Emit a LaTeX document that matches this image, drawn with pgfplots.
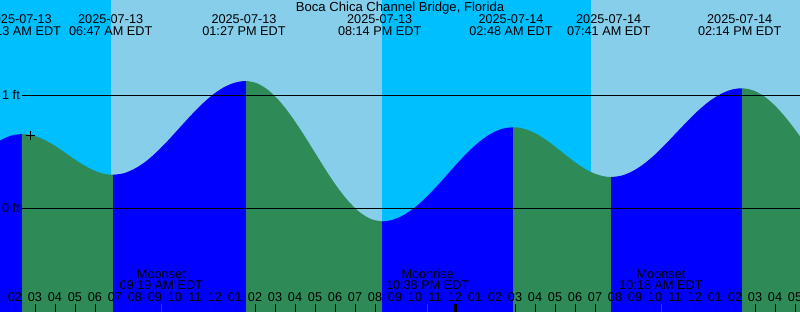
\documentclass[border=0pt]{standalone}
\usepackage{pgfplots}
\pgfplotsset{compat=1.18}
\usepgfplotslibrary{fillbetween}
\usepackage{fontspec}
\setmainfont{Liberation Sans}
\definecolor{deepsky}{RGB}{0,191,255}
\definecolor{skyb}{RGB}{135,206,235}
\definecolor{flood}{RGB}{0,0,255}
\definecolor{ebb}{RGB}{46,139,87}
\newcommand\lf{\fontsize{12.7bp}{14bp}\selectfont}
\newcommand\tf{\fontsize{13.1bp}{15bp}\selectfont}
\tikzset{fill between/on layer=main}
\begin{document}
\begin{tikzpicture}
\begin{axis}[name=ax,
  scale only axis, width=800bp, height=312bp,
  xmin=1.25, xmax=41.25, ymin=-0.9177, ymax=1.8434,
  axis line style={draw=none},
  axis on top,
  ytick=\empty,
  xtick={2,...,41},
  xticklabels={02,03,04,05,06,07,08,09,10,11,12,01,02,03,04,05,06,07,08,09,10,11,12,01,02,03,04,05,06,07,08,09,10,11,12,01,02,03,04,05},
  xtick pos=left,
  tick align=inside,
  major tick length=8bp,
  tick style={black, line width=1bp},
  xticklabel style={anchor=base, yshift=10.7bp, font=\lf, inner sep=0pt},
  nodes={inner sep=0pt, font=\lf},
]
% day / night background
\addplot[fill=deepsky, draw=none] coordinates {(0,-1) (0,2) (6.8,2) (6.8,-1)} -- cycle;
\addplot[fill=skyb, draw=none] coordinates {(6.8,-1) (6.8,2) (20.35,2) (20.35,-1)} -- cycle;
\addplot[fill=deepsky, draw=none] coordinates {(20.35,-1) (20.35,2) (30.8,2) (30.8,-1)} -- cycle;
\addplot[fill=skyb, draw=none] coordinates {(30.8,-1) (30.8,2) (42,2) (42,-1)} -- cycle;
% tide curve
\addplot[draw=none, smooth, name path=tide] coordinates {
(0.35,0.480) (0.85,0.553) (1.35,0.609) (1.85,0.645)
(2.35,0.657)
(2.729,0.651) (3.108,0.633) (3.4875,0.604) (3.867,0.567) (4.246,0.524) (4.625,0.477) (5.004,0.430) (5.383,0.387) (5.763,0.350) (6.142,0.321) (6.521,0.303)
(6.9,0.297)
(7.454,0.311) (8.008,0.353) (8.5625,0.418) (9.117,0.504) (9.671,0.604) (10.225,0.712) (10.779,0.819) (11.333,0.919) (11.8875,1.005) (12.442,1.071) (12.996,1.112)
(13.55,1.126)
(14.117,1.105) (14.683,1.043) (15.25,0.944) (15.817,0.816) (16.383,0.666) (16.95,0.506) (17.517,0.345) (18.083,0.195) (18.65,0.067) (19.217,-0.032) (19.783,-0.094)
(20.35,-0.115)
(20.896,-0.101) (21.442,-0.059) (21.9875,0.007) (22.533,0.093) (23.079,0.193) (23.625,0.301) (24.171,0.409) (24.717,0.509) (25.2625,0.595) (25.808,0.661) (26.354,0.703)
(26.9,0.717)
(27.308,0.710) (27.717,0.688) (28.125,0.653) (28.533,0.607) (28.942,0.554) (29.35,0.497) (29.758,0.440) (30.167,0.387) (30.575,0.341) (30.983,0.307) (31.392,0.285)
(31.8,0.277)
(32.346,0.290) (32.892,0.330) (33.4375,0.392) (33.983,0.473) (34.529,0.568) (35.075,0.670) (35.621,0.771) (36.167,0.866) (36.7125,0.947) (37.258,1.009) (37.804,1.049)
(38.35,1.062)
(38.9,1.044) (39.45,0.992) (40.0,0.908) (40.55,0.800) (41.1,0.673) (41.65,0.537)
};
\addplot[draw=none, name path=bot] coordinates {(0.35,-1) (41.65,-1)};
\addplot[fill=flood, draw=none] fill between[of=tide and bot, soft clip={domain=0.35:2.35}];
\addplot[fill=ebb, draw=none] fill between[of=tide and bot, soft clip={domain=2.35:6.9}];
\addplot[fill=flood, draw=none] fill between[of=tide and bot, soft clip={domain=6.9:13.55}];
\addplot[fill=ebb, draw=none] fill between[of=tide and bot, soft clip={domain=13.55:20.35}];
\addplot[fill=flood, draw=none] fill between[of=tide and bot, soft clip={domain=20.35:26.9}];
\addplot[fill=ebb, draw=none] fill between[of=tide and bot, soft clip={domain=26.9:31.8}];
\addplot[fill=flood, draw=none] fill between[of=tide and bot, soft clip={domain=31.8:38.35}];
\addplot[fill=ebb, draw=none] fill between[of=tide and bot, soft clip={domain=38.35:41.65}];
% datum lines
\addplot[black, line width=1bp] coordinates {(2.35,1) (41.25,1)};
\addplot[black, line width=1bp] coordinates {(2.35,0) (41.25,0)};
\node[anchor=base east] at (axis cs:2.25,0.967) {1 ft};
\node[anchor=base east] at (axis cs:2.25,-0.039) {0 ft};
% marker
\addplot[only marks, mark=+, mark size=4.5bp, black, line width=0.8bp] coordinates {(2.75,0.642)};
% title and tide events
\node[anchor=base, font=\tf] at (axis cs:21.25,1.740) {Boca Chica Channel Bridge, Florida};
\node[anchor=base] at (axis cs:2.217,1.637) {2025-07-13};
\node[anchor=base] at (axis cs:2.217,1.525) {02:13 AM EDT};
\node[anchor=base] at (axis cs:6.783,1.637) {2025-07-13};
\node[anchor=base] at (axis cs:6.783,1.525) {06:47 AM EDT};
\node[anchor=base] at (axis cs:13.45,1.637) {2025-07-13};
\node[anchor=base] at (axis cs:13.45,1.525) {01:27 PM EDT};
\node[anchor=base] at (axis cs:20.233,1.637) {2025-07-13};
\node[anchor=base] at (axis cs:20.233,1.525) {08:14 PM EDT};
\node[anchor=base] at (axis cs:26.8,1.637) {2025-07-14};
\node[anchor=base] at (axis cs:26.8,1.525) {02:48 AM EDT};
\node[anchor=base] at (axis cs:31.683,1.637) {2025-07-14};
\node[anchor=base] at (axis cs:31.683,1.525) {07:41 AM EDT};
\node[anchor=base] at (axis cs:38.233,1.637) {2025-07-14};
\node[anchor=base] at (axis cs:38.233,1.525) {02:14 PM EDT};
% moon events
\node[anchor=base] at (axis cs:9.317,-0.619) {Moonset};
\node[anchor=base] at (axis cs:9.317,-0.723) {09:19 AM EDT};
\node[anchor=base] at (axis cs:22.633,-0.619) {Moonrise};
\node[anchor=base] at (axis cs:22.633,-0.723) {10:38 PM EDT};
\node[anchor=base] at (axis cs:34.3,-0.619) {Moonset};
\node[anchor=base] at (axis cs:34.3,-0.723) {10:18 AM EDT};
% special ticks
\addplot[red, line width=1bp] coordinates {(9.317,-0.9177) (9.317,-0.847)};
\addplot[red, line width=1bp] coordinates {(22.633,-0.9177) (22.633,-0.847)};
\addplot[red, line width=1bp] coordinates {(34.3,-0.9177) (34.3,-0.847)};
\addplot[black, line width=3bp] coordinates {(24,-0.9177) (24,-0.847)};
\end{axis}
\pgfresetboundingbox
\path[use as bounding box] (ax.south west) rectangle (ax.north east);
\end{tikzpicture}
\end{document}
